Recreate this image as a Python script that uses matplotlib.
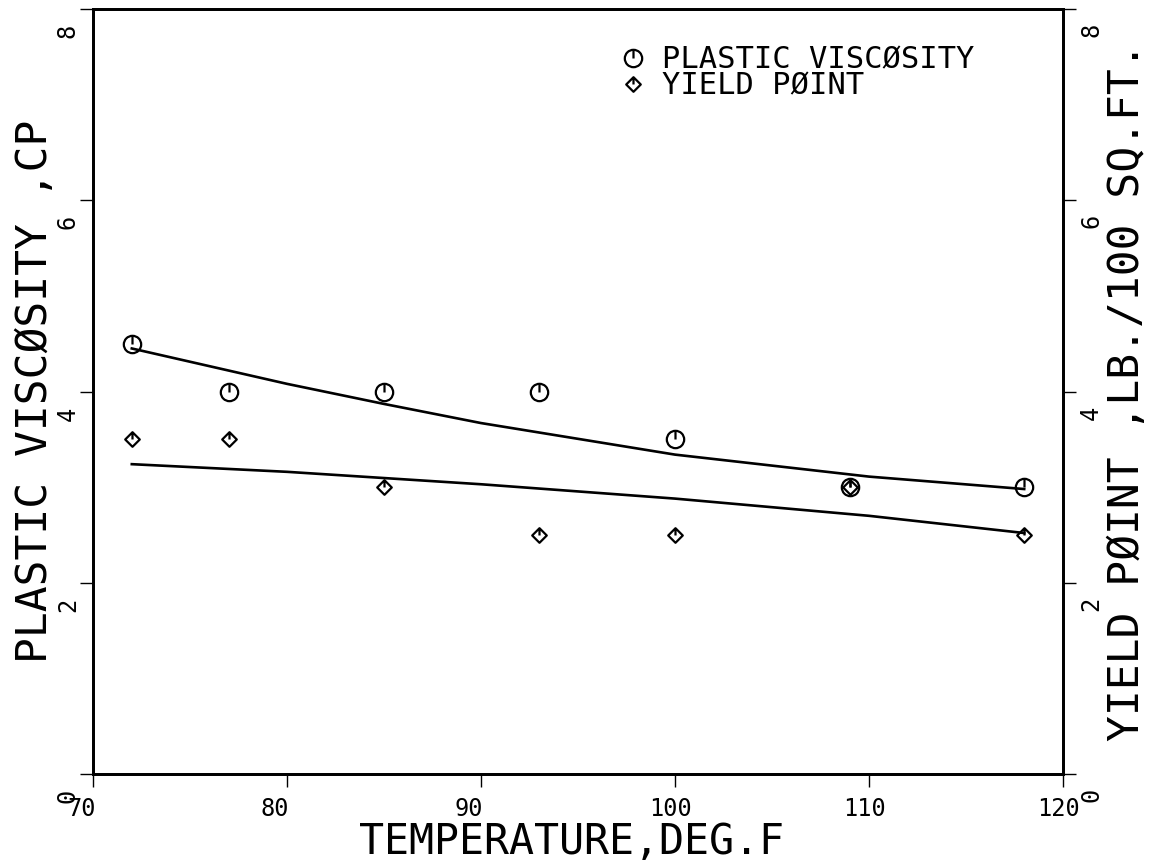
import matplotlib
matplotlib.use("Agg")
import matplotlib.pyplot as plt
import matplotlib.transforms as mtransforms
from matplotlib.path import Path

# measured points
temp = [72, 77, 85, 93, 100, 109, 118]
plastic_visc = [4.5, 4.0, 4.0, 4.0, 3.5, 3.0, 3.0]
yield_point = [3.5, 3.5, 3.0, 2.5, 2.5, 3.0, 2.5]

# fitted curves
fit_temp = [72, 80, 85, 90, 100, 110, 118]
pv_fit = [4.45, 4.08, 3.87, 3.67, 3.34, 3.11, 2.98]
yp_fit_temp = [72, 80, 90, 100, 110, 118]
yp_fit = [3.24, 3.16, 3.03, 2.88, 2.70, 2.52]

x_ticks = [70, 80, 90, 100, 110, 120]
x_ticklabels = ["70", "80", "90", "100", "110", "120"]
y_ticks = [0, 2, 4, 6, 8]
y_ticklabels = ["0", "2", "4", "6", "8"]
legend_labels = ["PLASTIC VISCØSITY", "YIELD PØINT"]

MONO = "DejaVu Sans Mono"

# plotter style markers: outline with a little tick from centre to top
circ_tick = Path.make_compound_path(Path.unit_circle(),
                                    Path([(0, 0), (0, 1)], [Path.MOVETO, Path.LINETO]))
diam_tick = Path([(0, 1), (1, 0), (0, -1), (-1, 0), (0, 1), (0, 0), (0, 1)],
                 [Path.MOVETO, Path.LINETO, Path.LINETO, Path.LINETO, Path.CLOSEPOLY,
                  Path.MOVETO, Path.LINETO])

W, H = 1157, 863
fig = plt.figure(figsize=(W / 100, H / 100), dpi=100)
ax = fig.add_axes([93 / W, (H - 774) / H, 970 / W, 765 / H])
ax2 = ax.twinx()

def px(dx, dy):
    return mtransforms.ScaledTranslation(dx / 100, dy / 100, fig.dpi_scale_trans)

ax.plot(fit_temp, pv_fit, color="k", lw=1.9)
ax2.plot(yp_fit_temp, yp_fit, color="k", lw=1.9)
pv_line, = ax.plot(temp, plastic_visc, ls="none", marker=circ_tick, ms=12.5,
                   mfc="none", mec="k", mew=1.6, label=legend_labels[0])
yp_line, = ax2.plot(temp, yield_point, ls="none", marker=diam_tick, ms=10.5,
                    mfc="none", mec="k", mew=1.6, label=legend_labels[1])

for a in (ax, ax2):
    a.set_xlim(70, 120)
    a.set_ylim(0, 8)
    a.set_yticks(y_ticks)
    for s in a.spines.values():
        s.set_linewidth(2.0)
ax.set_xticks(x_ticks)
ax.tick_params(direction="out", length=9.5, width=1.0, labelbottom=False, labelleft=False)
ax2.tick_params(direction="out", length=9.5, width=1.0, labelright=False)

# tick labels placed like the plotter did (shifted off the ticks)
for t, lab in zip(x_ticks, x_ticklabels):
    ax.text(t, 0, lab, transform=ax.get_xaxis_transform() + px(-26, -23),
            ha="left", va="top", fontsize=17, family=MONO)
for v, lab in zip(y_ticks, y_ticklabels):
    ax.text(0, v, lab, transform=ax.get_yaxis_transform() + px(-25, -22),
            ha="center", va="center", rotation=90, fontsize=17, family=MONO)
    ax.text(1, v, lab, transform=ax.get_yaxis_transform() + px(28, -21),
            ha="center", va="center", rotation=90, fontsize=17, family=MONO)

ax.set_xlabel("TEMPERATURE,DEG.F", fontsize=30, family=MONO, va="top")
ax.xaxis.set_label_coords(0.493, -0.062)
ax.set_ylabel("PLASTIC VISCØSITY ,CP", fontsize=31, family=MONO, va="center")
ax.yaxis.set_label_coords(-0.060, 0.5)
ax2.set_ylabel("YIELD PØINT ,LB./100 SQ.FT.", fontsize=31, family=MONO,
               va="center", rotation=90)
ax2.yaxis.set_label_coords(1.066, 0.5)

ax2.legend(handles=[pv_line, yp_line], loc="upper left", bbox_to_anchor=(0.541, 0.952),
           frameon=False, prop={"family": MONO, "size": 22}, handlelength=1.0,
           handletextpad=0.45, labelspacing=-0.1, borderpad=0, borderaxespad=0,
           numpoints=1)

fig.savefig("out.png", dpi=100)
